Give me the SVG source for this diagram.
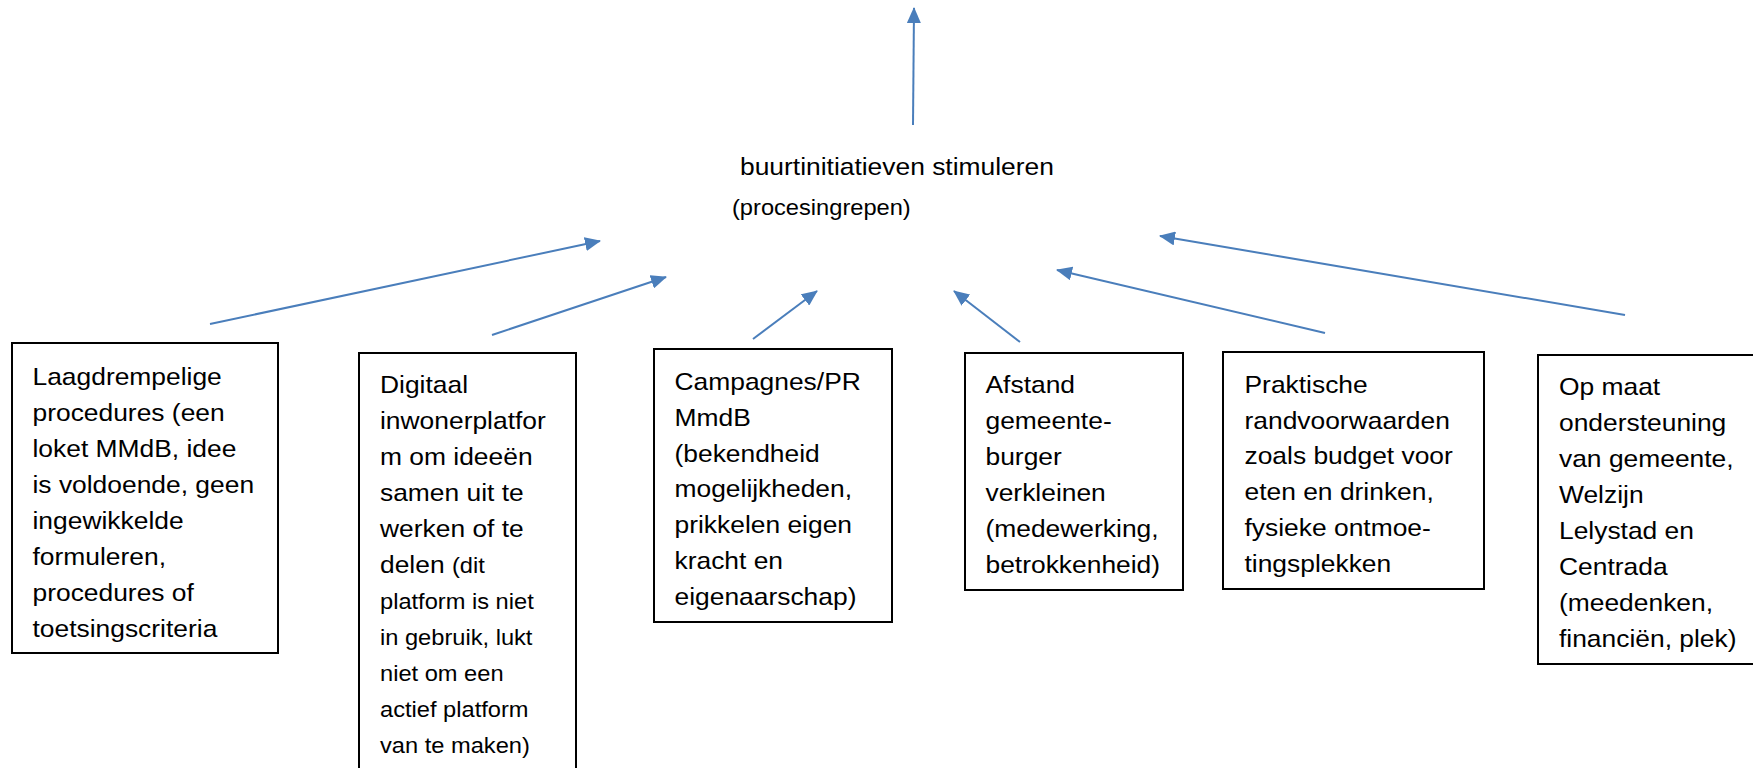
<svg xmlns="http://www.w3.org/2000/svg" width="1753" height="768" viewBox="0 0 1753 768">
<style>
.box{fill:#fff;stroke:#000;stroke-width:2}
.t{font-family:"Liberation Sans",Arial,sans-serif;font-size:24px;fill:#000}
.s{font-size:21.5px}
.c{stroke:#4A7EBB;stroke-width:2;fill:none;marker-end:url(#ah)}
</style>
<defs>
<marker id="ah" viewBox="0 0 16 14" markerWidth="16" markerHeight="14" markerUnits="userSpaceOnUse" refX="15" refY="7" orient="auto">
<path d="M0,0 L16,7 L0,14 z" fill="#4A7EBB"/>
</marker>
</defs>
<rect width="1753" height="768" fill="#fff"/>
<g id="connectors">
<line class="c" x1="913" y1="125" x2="914" y2="8"/>
<line class="c" x1="210" y1="324" x2="600" y2="241"/>
<line class="c" x1="492" y1="335" x2="666" y2="277"/>
<line class="c" x1="753" y1="339" x2="817" y2="291"/>
<line class="c" x1="1020" y1="342" x2="954" y2="291"/>
<line class="c" x1="1325" y1="333" x2="1057" y2="270"/>
<line class="c" x1="1625" y1="315" x2="1160" y2="236"/>
</g>
<g id="center">
<text class="t" transform="translate(740,0) scale(1.1,1)" x="0" y="175">buurtinitiatieven stimuleren</text>
<text class="t s" transform="translate(732,0) scale(1.1,1)" x="0" y="215">(procesingrepen)</text>
</g>
<g id="node1">
<rect class="box" x="12" y="343" width="266" height="310"/>
<text class="t" transform="translate(32.5,0) scale(1.1,1)">
<tspan x="0" y="385">Laagdrempelige</tspan>
<tspan x="0" y="421">procedures (een</tspan>
<tspan x="0" y="457">loket MMdB, idee</tspan>
<tspan x="0" y="493">is voldoende, geen</tspan>
<tspan x="0" y="529">ingewikkelde</tspan>
<tspan x="0" y="565">formuleren,</tspan>
<tspan x="0" y="601">procedures of</tspan>
<tspan x="0" y="637">toetsingscriteria</tspan>
</text>
</g>
<g id="node2">
<rect class="box" x="359" y="353" width="217" height="440"/>
<text class="t" transform="translate(380,0) scale(1.1,1)">
<tspan x="0" y="393">Digitaal</tspan>
<tspan x="0" y="429">inwonerplatfor</tspan>
<tspan x="0" y="465">m om ideeën</tspan>
<tspan x="0" y="501">samen uit te</tspan>
<tspan x="0" y="537">werken of te</tspan>
<tspan x="0" y="573">delen <tspan class="s">(dit</tspan></tspan>
<tspan class="s" x="0" y="609">platform is niet</tspan>
<tspan class="s" x="0" y="645">in gebruik, lukt</tspan>
<tspan class="s" x="0" y="681">niet om een</tspan>
<tspan class="s" x="0" y="717">actief platform</tspan>
<tspan class="s" x="0" y="753">van te maken)</tspan>
</text>
</g>
<g id="node3">
<rect class="box" x="654" y="349" width="238" height="273"/>
<text class="t" transform="translate(674.5,0) scale(1.1,1)">
<tspan x="0" y="390">Campagnes/PR</tspan>
<tspan x="0" y="426">MmdB</tspan>
<tspan x="0" y="462">(bekendheid</tspan>
<tspan x="0" y="497">mogelijkheden,</tspan>
<tspan x="0" y="533">prikkelen eigen</tspan>
<tspan x="0" y="569">kracht en</tspan>
<tspan x="0" y="605">eigenaarschap)</tspan>
</text>
</g>
<g id="node4">
<rect class="box" x="965" y="353" width="218" height="237"/>
<text class="t" transform="translate(985.5,0) scale(1.1,1)">
<tspan x="0" y="393">Afstand</tspan>
<tspan x="0" y="429">gemeente-</tspan>
<tspan x="0" y="465">burger</tspan>
<tspan x="0" y="501">verkleinen</tspan>
<tspan x="0" y="537">(medewerking,</tspan>
<tspan x="0" y="573">betrokkenheid)</tspan>
</text>
</g>
<g id="node5">
<rect class="box" x="1223" y="352" width="261" height="237"/>
<text class="t" transform="translate(1244.5,0) scale(1.1,1)">
<tspan x="0" y="393">Praktische</tspan>
<tspan x="0" y="429">randvoorwaarden</tspan>
<tspan x="0" y="464">zoals budget voor</tspan>
<tspan x="0" y="500">eten en drinken,</tspan>
<tspan x="0" y="536">fysieke ontmoe-</tspan>
<tspan x="0" y="572">tingsplekken</tspan>
</text>
</g>
<g id="node6">
<rect class="box" x="1538" y="355" width="240" height="309"/>
<text class="t" transform="translate(1559,0) scale(1.1,1)">
<tspan x="0" y="395">Op maat</tspan>
<tspan x="0" y="431">ondersteuning</tspan>
<tspan x="0" y="467">van gemeente,</tspan>
<tspan x="0" y="503">Welzijn</tspan>
<tspan x="0" y="539">Lelystad en</tspan>
<tspan x="0" y="575">Centrada</tspan>
<tspan x="0" y="611">(meedenken,</tspan>
<tspan x="0" y="647">financiën, plek)</tspan>
</text>
</g>
</svg>
